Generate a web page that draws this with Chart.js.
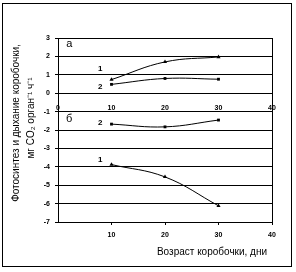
<!DOCTYPE html>
<html><head><meta charset="utf-8">
<script src="https://cdn.jsdelivr.net/npm/chart.js@4.4.1/dist/chart.umd.min.js"></script>
<style>
html,body{margin:0;padding:0;background:#fff;}
#wrap{position:relative;width:296px;height:272px;}
#frame{position:absolute;left:2px;top:3px;width:288px;height:262px;border:1px solid #000;}
canvas{position:absolute;left:0;top:0;}
</style></head><body>
<div id="wrap"><div id="frame"></div><canvas id="c" width="296" height="272"></canvas></div>
<script>
// ---- data ----
const ages = [10, 20, 30];
const photo1 = [0.74, 1.7, 1.97];     // panel а, curve 1
const photo2 = [0.48, 0.8, 0.76];     // panel а, curve 2
const resp2 = [-1.68, -1.83, -1.46];  // panel б, curve 2
const resp1 = [-3.88, -4.55, -6.12];  // panel б, curve 1
const xTickValues = [0, 10, 20, 30, 40];
const yMin = -7, yMax = 3;
const yTitleLines = ['Фотосинтез и дыхание коробочки,', 'мг CO\u2082 орган\u207B\u00B9 ч\u207B\u00B9'];
const xTitleText = 'Возраст коробочки, дни';
const panelLabels = ['а', 'б'];
const panelLabelAt = [[2.1, 2.65], [2.1, -1.4]];
const curveLabels = ['1', '2', '2', '1'];
const curveLabelAt = [[7.9, 1.32], [7.9, 0.33], [7.9, -1.62], [7.9, -3.62]];

const pts = arr => ages.map((a, i) => ({x: a, y: arr[i]}));
const mkSet = (arr, style) => ({
  data: pts(arr), borderColor: '#000', backgroundColor: '#000', borderWidth: 1,
  pointStyle: style, pointRadius: style === 'triangle' ? 2.4 : 2, pointBorderWidth: 0,
  tension: 0.4, fill: false
});

const FONT = "'Liberation Sans', Arial, sans-serif";

const textPlugin = {
  id: 'texts',
  afterDraw(chart) {
    const ctx = chart.ctx, xs = chart.scales.x, ys = chart.scales.y;
    ctx.save();
    ctx.fillStyle = '#000';
    ctx.textAlign = 'center';
    ctx.textBaseline = 'middle';
    // y title
    ctx.font = '10px ' + FONT;
    ctx.save();
    ctx.translate(16, 123); ctx.rotate(-Math.PI / 2);
    ctx.fillText(yTitleLines[0], 0, 0);
    ctx.restore();
    ctx.save();
    ctx.translate(31, 118); ctx.rotate(-Math.PI / 2);
    ctx.fillText(yTitleLines[1], 0, 0);
    ctx.restore();
    // x title
    ctx.fillText(xTitleText, 212, 252);
    // panel labels
    ctx.font = '11px ' + FONT;
    panelLabels.forEach((t, i) => {
      ctx.fillText(t, xs.getPixelForValue(panelLabelAt[i][0]), ys.getPixelForValue(panelLabelAt[i][1]));
    });
    ctx.font = 'bold 8px ' + FONT;
    curveLabels.forEach((t, i) => {
      ctx.fillText(t, xs.getPixelForValue(curveLabelAt[i][0]), ys.getPixelForValue(curveLabelAt[i][1]));
    });
    ctx.restore();
  }
};

new Chart(document.getElementById('c'), {
  type: 'line',
  data: { datasets: [mkSet(photo1, 'triangle'), mkSet(photo2, 'rect'), mkSet(resp2, 'rect'), mkSet(resp1, 'triangle')] },
  options: {
    responsive: false, animation: false, devicePixelRatio: 1,
    layout: { padding: { left: 0, top: 38, right: 24, bottom: 0 } },
    plugins: { legend: { display: false }, tooltip: { enabled: false } },
    scales: {
      x: {
        type: 'linear', position: 'bottom', min: 0, max: 40,
        afterBuildTicks: s => { s.ticks = xTickValues.map(v => ({value: v})); },
        afterFit: s => { s.height = 50; },
        ticks: { font: { family: FONT, size: 7, weight: 'bold' }, color: '#000', padding: 6,
                 callback: v => v === 0 ? '' : String(v), maxRotation: 0 },
        grid: { color: c => (c.tick && (c.tick.value === 0 || c.tick.value === 40)) ? '#000' : 'rgba(0,0,0,0)',
                tickColor: c => (c.tick && c.tick.value !== 0) ? '#000' : 'rgba(0,0,0,0)',
                tickLength: 3, lineWidth: 1 },
        border: { display: true, color: '#000', width: 1 }
      },
      x0: {
        type: 'linear', axis: 'x', position: { y: 0 }, min: 0, max: 40,
        afterBuildTicks: s => { s.ticks = xTickValues.map(v => ({value: v})); },
        ticks: { font: { family: FONT, size: 7, weight: 'bold' }, color: '#000', padding: 11, maxRotation: 0 },
        grid: { display: false, drawTicks: false },
        border: { display: false }
      },
      y: {
        type: 'linear', position: 'left', min: yMin, max: yMax,
        ticks: { stepSize: 1, font: { family: FONT, size: 7, weight: 'bold' }, color: '#000', padding: 5 },
        afterFit: s => { s.width = 58; },
        grid: { color: '#000', lineWidth: 1, tickLength: 3 },
        border: { display: true, color: '#000', width: 1 }
      }
    }
  },
  plugins: [textPlugin]
});
</script>
</body></html>
